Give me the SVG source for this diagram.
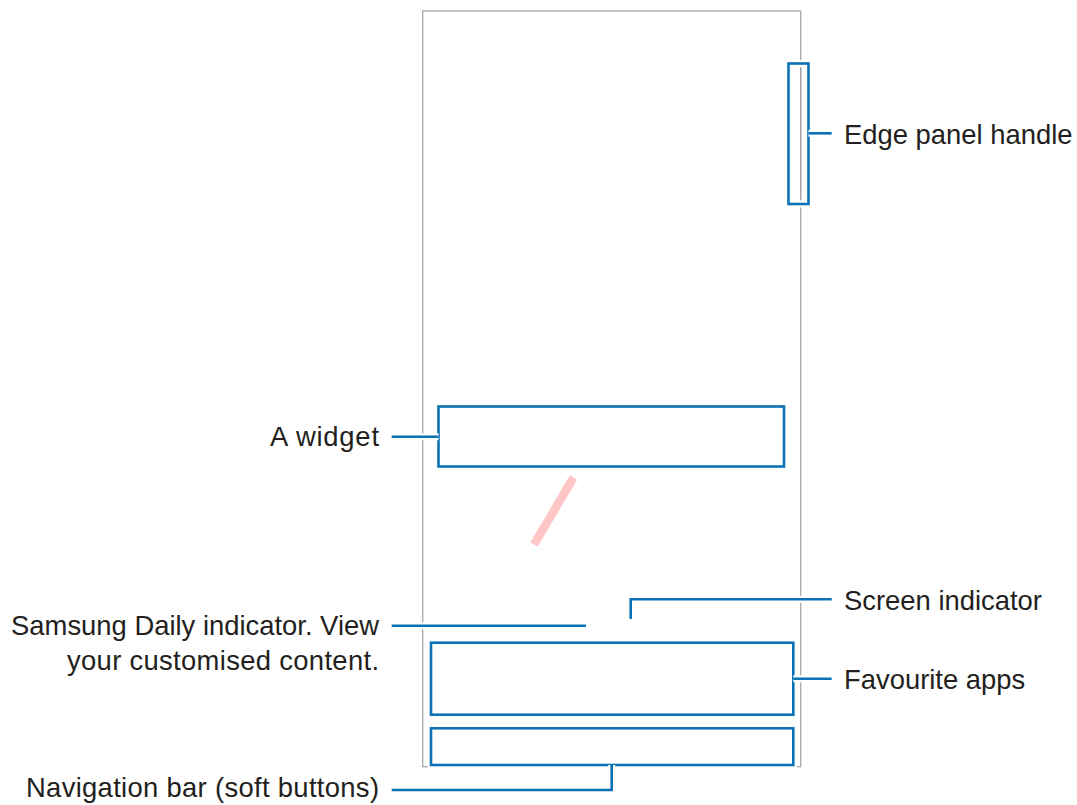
<svg xmlns="http://www.w3.org/2000/svg" width="1077" height="805" viewBox="0 0 1077 805">
<style>
.halo{fill:none;stroke:#ffffff;stroke-width:7}
.box{fill:none;stroke:#0b72b5;stroke-width:2.6}
.ln{fill:none;stroke:#0b72b5;stroke-width:2.6}
.lbl{font-family:"Liberation Sans",Arial,sans-serif;font-size:27.4px;fill:#231f20}
.r{text-anchor:end}
</style>
<rect width="1077" height="805" fill="#ffffff"/>
<g id="phone">
<rect x="422.7" y="11" width="378" height="755.7" fill="none" stroke="#a8a8a8" stroke-width="1.3"/>
</g>
<g id="edge-panel-handle">
<rect class="halo" x="788.5" y="63.5" width="20" height="140.5"/>
<line x1="800.7" y1="68" x2="800.7" y2="199" stroke="#a8a8a8" stroke-width="1.3"/>
<rect class="box" x="788.5" y="63.5" width="20" height="140.5"/>
<text class="lbl" x="844" y="144">Edge panel handle</text>
</g>
<g id="widget">
<rect class="box" x="438.5" y="406.5" width="345.5" height="60"/>
<text class="lbl r" x="379" y="446" textLength="109">A widget</text>
</g>
<g id="edge-light">
<line x1="573.5" y1="477.5" x2="534" y2="544.5" stroke="#ffc6c6" stroke-width="8.5"/>
</g>
<g id="samsung-daily">
<text class="lbl r" x="379" y="635">Samsung Daily indicator. View</text>
<text class="lbl r" x="379" y="670" textLength="312">your customised content.</text>
</g>
<g id="screen-indicator">
<text class="lbl" x="844" y="610">Screen indicator</text>
</g>
<g id="favourite-apps">
<rect class="halo" x="431" y="642.7" width="362.3" height="72"/>
<rect class="box" x="431" y="642.7" width="362.3" height="72"/>
<text class="lbl" x="844" y="689">Favourite apps</text>
</g>
<g id="navigation-bar">
<rect class="halo" x="431" y="728.3" width="362.3" height="36.7"/>
<rect class="box" x="431" y="728.3" width="362.3" height="36.7"/>
<text class="lbl r" x="379" y="797" textLength="353">Navigation bar (soft buttons)</text>
</g>
<g id="connectors">
<line class="halo" x1="808.5" y1="133.3" x2="831.7" y2="133.3"/>
<line class="ln" x1="808.5" y1="133.3" x2="831.7" y2="133.3"/>
<line class="halo" x1="391.7" y1="436.7" x2="438.5" y2="436.7"/>
<line class="ln" x1="391.7" y1="436.7" x2="438.5" y2="436.7"/>
<line class="halo" x1="391.7" y1="625.7" x2="586" y2="625.7"/>
<line class="ln" x1="391.7" y1="625.7" x2="586" y2="625.7"/>
<polyline class="halo" points="630.7,619 630.7,599.3 831.7,599.3"/>
<polyline class="ln" points="630.7,619 630.7,599.3 831.7,599.3"/>
<line class="halo" x1="793.3" y1="678.7" x2="831.7" y2="678.7"/>
<line class="ln" x1="793.3" y1="678.7" x2="831.7" y2="678.7"/>
<polyline class="halo" points="611.7,765 611.7,790 391.7,790"/>
<polyline class="ln" points="611.7,765 611.7,790 391.7,790"/>
</g>
</svg>
